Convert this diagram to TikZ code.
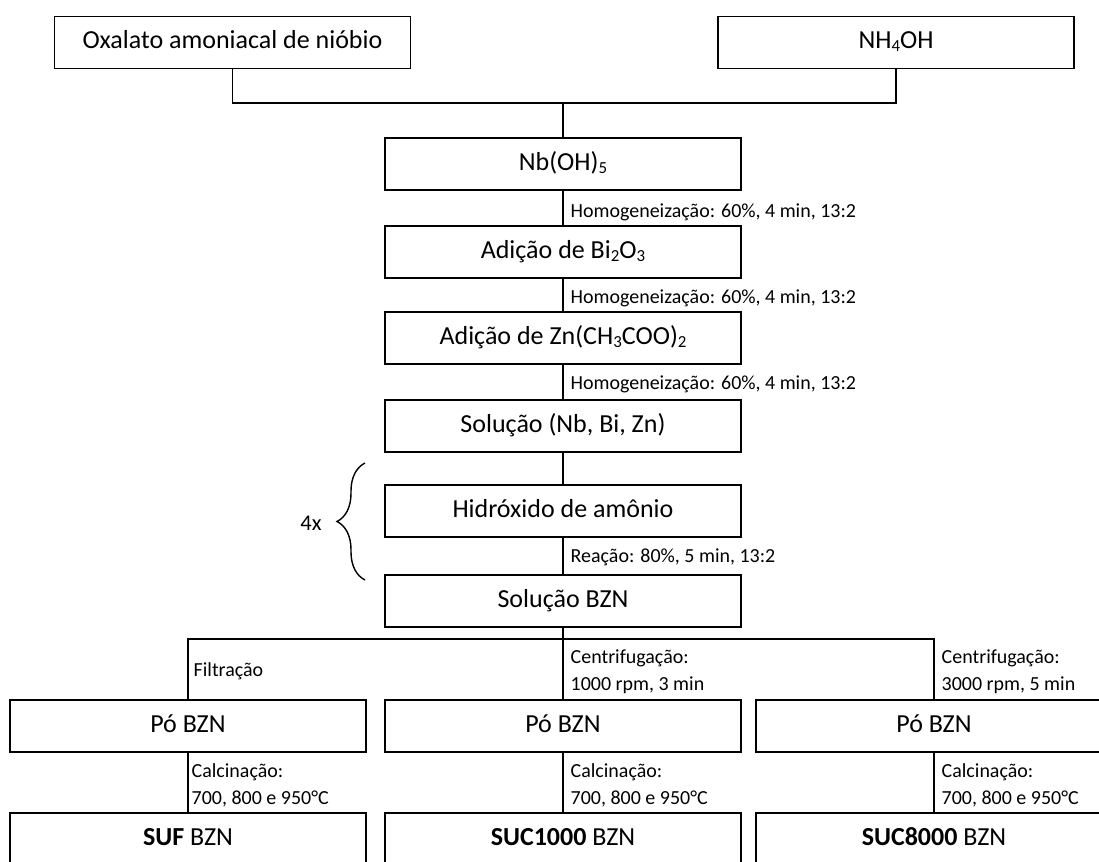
\documentclass[tikz,border=0pt]{standalone}
\usepackage{fontspec}
\setmainfont{Carlito}
\usetikzlibrary{decorations.pathreplacing}
\newcommand{\chemsub}[1]{\raisebox{-0.25ex}{\fontsize{12}{12}\selectfont #1}}

\begin{document}
\begin{tikzpicture}[
        line width=1pt,
        font=\fontsize{18.5}{22}\selectfont
    ]
    \tikzset{
        procbox/.style = {rectangle, draw=black, align=center, minimum width=8.9cm, minimum height=1.3cm, inner sep=0pt, text height=13pt, text depth=4pt},
        proclabel/.style = {anchor=west, align=left, inner sep=0pt, font=\fontsize{14.2}{19.5}\selectfont},
    }
    \useasboundingbox (0,0) rectangle (27.475,-21.525);
    % starting materials
    \node[procbox] (oxa) at (5.8125,-1.0625) {Oxalato amoniacal de nióbio};
    \node[procbox] (nh4) at (22.4,-1.0625) {NH\chemsub{4}OH};
    \coordinate (join) at (14.075,-2.575);
    \draw (oxa.south) |- (join) -| (nh4.south);
    % main column
    \node[procbox] (nb) at (14.075,-4.1) {Nb(OH)\chemsub{5}};
    \node[procbox] (bi) at (14.075,-6.3) {Adição de Bi\chemsub{2}O\chemsub{3}};
    \node[procbox] (zn) at (14.075,-8.45) {Adição de Zn(CH\chemsub{3}COO)\chemsub{2}};
    \node[procbox] (sol) at (14.075,-10.65) {Solução (Nb, Bi, Zn)};
    \node[procbox] (hid) at (14.075,-12.775) {Hidróxido de amônio};
    \node[procbox] (solbzn) at (14.075,-15.025) {Solução BZN};
    \draw (join) -- (nb);
    \foreach \a/\b in {nb/bi,bi/zn,zn/sol,sol/hid,hid/solbzn}
        \draw (\a) -- (\b);
    \node[proclabel] (hom1) at (14.25,-5.3) {Homogeneização: 60\%, 4 min, 13:2};
    \node[proclabel] (hom2) at (14.25,-7.45) {Homogeneização: 60\%, 4 min, 13:2};
    \node[proclabel] (hom3) at (14.25,-9.6) {Homogeneização: 60\%, 4 min, 13:2};
    \node[proclabel] (reac) at (14.25,-13.925) {Reação: 80\%, 5 min, 13:2};
    % repeat brace
    \coordinate (brbot) at (9.125,-14.5);
    \coordinate (brtop) at (9.125,-11.575);
    \draw[decorate, decoration={brace, amplitude=0.7cm}] (brbot) -- (brtop);
    \node[font=\fontsize{16}{19}\selectfont] (rep) at (7.775,-13.075) {4x};
    % separation
    \coordinate (split) at (14.075,-15.975);
    \node[procbox] (po1) at (4.7,-18.15) {Pó BZN};
    \node[procbox] (po2) at (14.075,-18.15) {Pó BZN};
    \node[procbox] (po3) at (23.35,-18.15) {Pó BZN};
    \draw (solbzn) -- (split);
    \draw (split) -| (po1);
    \draw (split) -- (po2);
    \draw (split) -| (po3);
    \node[proclabel] (filt) at (4.825,-16.775) {Filtração};
    \node[proclabel] (cen1) at (14.25,-16.7875) {Centrifugação:\\1000 rpm, 3 min};
    \node[proclabel] (cen2) at (23.525,-16.7875) {Centrifugação:\\3000 rpm, 5 min};
    % calcination
    \node[procbox] (suf) at (4.7,-20.975) {\textbf{SUF} BZN};
    \node[procbox] (suc1) at (14.075,-20.975) {\textbf{SUC1000} BZN};
    \node[procbox] (suc8) at (23.35,-20.975) {\textbf{SUC8000} BZN};
    \draw (po1) -- (suf);
    \draw (po2) -- (suc1);
    \draw (po3) -- (suc8);
    \node[proclabel] (cal1) at (4.775,-19.6375) {Calcinação:\\700, 800 e 950°C};
    \node[proclabel] (cal2) at (14.25,-19.6375) {Calcinação:\\700, 800 e 950°C};
    \node[proclabel] (cal3) at (23.525,-19.6375) {Calcinação:\\700, 800 e 950°C};
\end{tikzpicture}
\end{document}
